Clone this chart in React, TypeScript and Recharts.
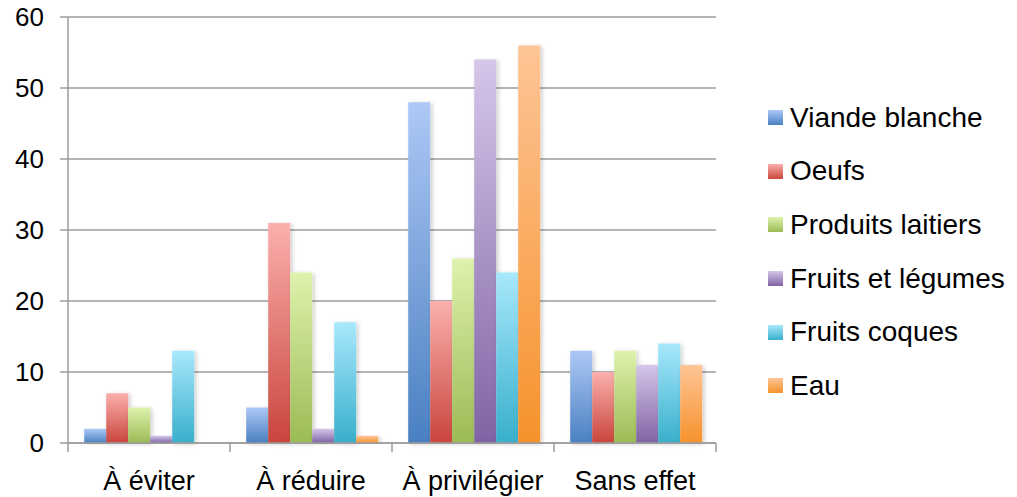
import React from "react";
import { Bar, BarChart, CartesianGrid, XAxis, YAxis } from "recharts";

const categories = ["À éviter", "À réduire", "À privilégier", "Sans effet"];
const viandeBlanche = [2, 5, 48, 13];
const oeufs = [7, 31, 20, 10];
const produitsLaitiers = [5, 24, 26, 13];
const fruitsLegumes = [1, 2, 54, 11];
const fruitsCoques = [13, 17, 24, 14];
const eau = [0, 1, 56, 11];
const yTicks = [0, 10, 20, 30, 40, 50, 60];

const series = [
  { key: "viande", name: "Viande blanche", values: viandeBlanche, top: "#adc8f5", bottom: "#4a80c2" },
  { key: "oeufs", name: "Oeufs", values: oeufs, top: "#fbb0ad", bottom: "#c9453c" },
  { key: "laitiers", name: "Produits laitiers", values: produitsLaitiers, top: "#def2ac", bottom: "#9bbb55" },
  { key: "fruitsLeg", name: "Fruits et légumes", values: fruitsLegumes, top: "#d5c6ea", bottom: "#8063a3" },
  { key: "coques", name: "Fruits coques", values: fruitsCoques, top: "#a8e8fc", bottom: "#38afcb" },
  { key: "eau", name: "Eau", values: eau, top: "#fec596", bottom: "#f6922c" },
];

const data = categories.map((cat, i) => {
  const row: Record<string, string | number> = { cat };
  series.forEach((s) => (row[s.key] = s.values[i]));
  return row;
});

const FONT = "'Liberation Sans', Arial, sans-serif";
const GRID = "#9c9c9c";
const PLOT_W = 648;

function XTick(props: any) {
  const { x, y, payload, index } = props;
  const half = PLOT_W / categories.length / 2;
  const top = y - 9;
  return (
    <g>
      <line x1={x - half} x2={x - half} y1={top} y2={y} stroke={GRID} strokeWidth={1.5} />
      {index === categories.length - 1 && (
        <line x1={x + half} x2={x + half} y1={top} y2={y} stroke={GRID} strokeWidth={1.5} />
      )}
      <text x={x} y={y + 38} textAnchor="middle" fontSize={27} fill="#000" fontFamily={FONT}>
        {payload.value}
      </text>
    </g>
  );
}

function LegendBox() {
  return (
    <div style={{ position: "absolute", left: 768, top: 91, fontFamily: FONT }}>
      {series.map((s) => (
        <div key={s.key} style={{ display: "flex", alignItems: "center", height: 53.6 }}>
          <span
            style={{
              width: 15,
              height: 15,
              marginRight: 7,
              background: `linear-gradient(${s.top}, ${s.bottom})`,
            }}
          />
          <span style={{ fontSize: 28, color: "#000", whiteSpace: "nowrap" }}>{s.name}</span>
        </div>
      ))}
    </div>
  );
}

export default function App() {
  return (
    <div style={{ position: "absolute", left: 0, top: 0, width: 1017, height: 497, background: "#fff" }}>
      <BarChart
        width={1017}
        height={497}
        data={data}
        margin={{ top: 17, right: 301, bottom: 0, left: 0 }}
        barCategoryGap="10%"
        barGap={0}
      >
        <defs>
          {series.map((s) => (
            <linearGradient key={s.key} id={`g-${s.key}`} x1="0" y1="0" x2="0" y2="1">
              <stop offset="0%" stopColor={s.top} />
              <stop offset="100%" stopColor={s.bottom} />
            </linearGradient>
          ))}
          <filter id="shadow" x="-20%" y="-5%" width="150%" height="115%">
            <feDropShadow dx="2" dy="1" stdDeviation="2" floodColor="#000" floodOpacity="0.2" />
          </filter>
        </defs>
        <CartesianGrid vertical={false} stroke={GRID} strokeWidth={1.5} />
        <XAxis
          dataKey="cat"
          height={54}
          tickLine={false}
          tickSize={9}
          tickMargin={0}
          axisLine={{ stroke: GRID, strokeWidth: 1.5 }}
          tick={<XTick />}
          interval={0}
        />
        <YAxis
          width={68}
          domain={[0, 60]}
          ticks={yTicks}
          interval={0}
          tickSize={8}
          tickMargin={16}
          tickLine={{ stroke: GRID, strokeWidth: 1.5 }}
          axisLine={{ stroke: GRID, strokeWidth: 1.5 }}
          tick={{ fontSize: 26, fill: "#000", fontFamily: FONT }}
        />
        {series.map((s) => (
          <Bar
            key={s.key}
            dataKey={s.key}
            name={s.name}
            fill={`url(#g-${s.key})`}
            filter="url(#shadow)"
            isAnimationActive={false}
          />
        ))}
      </BarChart>
      <LegendBox />
    </div>
  );
}
